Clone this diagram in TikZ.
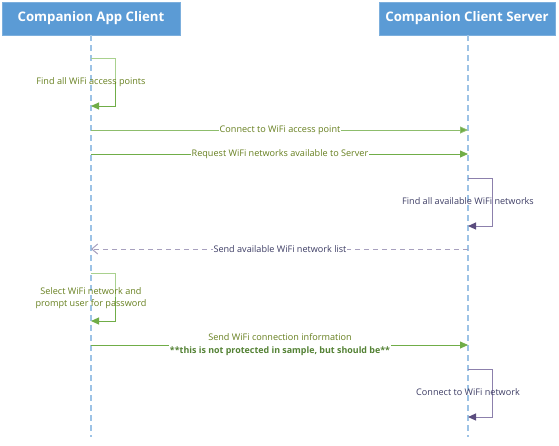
\documentclass[tikz,border=0pt]{standalone}
\usepackage{fontspec}
\setmainfont{Open Sans}
\usetikzlibrary{arrows.meta}
\definecolor{hdr}{HTML}{5B9BD5}
\definecolor{life}{HTML}{9DC3E6}
\definecolor{glight}{HTML}{A9D18E}
\definecolor{gdark}{HTML}{70AD47}
\definecolor{gtext}{HTML}{667F1E}
\definecolor{gbold}{HTML}{548235}
\definecolor{plight}{HTML}{8C80AC}
\definecolor{pdark}{HTML}{5B4C7E}
\definecolor{ptext}{HTML}{3C3C64}
\definecolor{pdash}{HTML}{A7A0BE}
\tikzset{
  x=1pt,y=-1pt,
  header/.style={fill=hdr,draw=hdr!80!white,line width=0.6pt,minimum width=178pt,minimum height=33pt,inner sep=0pt,text=white,font=\fontsize{13.2}{15}\selectfont\bfseries},
  lifeline/.style={draw=life,line width=1.3pt,dash pattern=on 6pt off 4pt},
  lbl/.style={font=\fontsize{9.1}{12}\selectfont,inner sep=1pt,align=center},
  glbl/.style={lbl,text=gtext},
  plbl/.style={lbl,text=ptext},
  gmsg/.style={draw=gdark,line width=0.8pt,-{Triangle[length=8pt,width=7pt,fill=gdark]}},
  gselfa/.style={draw=glight,line width=1pt},
  gselfb/.style={draw=gdark,line width=1pt,-{Triangle[length=8pt,width=7pt]}},
  pselfa/.style={draw=plight,line width=1pt},
  pselfb/.style={draw=plight,line width=1pt,-{Triangle[length=8pt,width=7pt,fill=pdark,color=pdark]}},
  ret/.style={draw=pdash,line width=1pt,dash pattern=on 5pt off 4pt,-{Straight Barb[length=6pt,width=10pt]}}
}
\begin{document}
\begin{tikzpicture}
\useasboundingbox (0,0) rectangle (559,445);
\node[header] (hA) at (91,18.5) {Companion App Client};
\node[header,minimum width=176pt] (hB) at (467,18.5) {Companion Client Server};
\coordinate (aEnd) at (91,437);
\coordinate (bEnd) at (468,437);
\draw[lifeline] (hA.south) -- (aEnd);
\draw[lifeline] (hB.south -| bEnd) -- (bEnd);
% self call 1
\coordinate (s1a) at (91,58); \coordinate (s1b) at (115,58);
\coordinate (s1c) at (115,106); \coordinate (s1d) at (91,106);
\draw[gselfa] (s1a) -- (s1b) -- (115,82);
\draw[gselfb] (115,82) -- (s1c) -- (s1d);
\node[glbl] (l1) at (91,82) {Find all WiFi access points};
% connect
\coordinate (m1a) at (91,130); \coordinate (m1b) at (468,130);
\draw[gmsg,draw=gdark!80!white] (m1a) -- (m1b);
\node[glbl,fill=white] (l2) at (280,130) {Connect to WiFi access point};
% request
\coordinate (m2a) at (91,154); \coordinate (m2b) at (468,154);
\draw[gmsg] (m2a) -- (m2b);
\node[glbl,fill=white] (l3) at (280,154) {Request WiFi networks available to Server};
% server self call
\coordinate (s2a) at (468,178); \coordinate (s2b) at (492,178);
\coordinate (s2c) at (492,226); \coordinate (s2d) at (468,226);
\draw[pselfa] (s2a) -- (s2b) -- (492,202);
\draw[pselfb] (492,202) -- (s2c) -- (s2d);
\node[plbl] (l4) at (468,201) {Find all available WiFi networks};
% return
\coordinate (r1a) at (468,249); \coordinate (r1b) at (91,249);
\draw[ret] (r1a) -- (r1b);
\node[plbl,fill=white] (l5) at (280,249) {Send available WiFi network list};
% self call 2
\coordinate (s3a) at (91,273); \coordinate (s3b) at (115,273);
\coordinate (s3c) at (115,321); \coordinate (s3d) at (91,321);
\draw[gselfa] (s3a) -- (s3b) -- (115,297);
\draw[gselfb] (115,297) -- (s3c) -- (s3d);
\node[glbl] (l6) at (91,298) {Select WiFi network and\\prompt user for password};
% send info
\coordinate (m3a) at (91,345); \coordinate (m3b) at (468,345);
\draw[gmsg] (m3a) -- (m3b);
\node[lbl,fill=white,font=\fontsize{9.1}{13}\selectfont] (l7) at (280,345) {\textcolor{gtext}{Send WiFi connection information}\\\textcolor{gbold}{\fontsize{8.9}{13}\selectfont\bfseries **this is not protected in sample, but should be**}};
% server self call 2
\coordinate (s4a) at (468,369); \coordinate (s4b) at (492,369);
\coordinate (s4c) at (492,417); \coordinate (s4d) at (468,417);
\draw[pselfa] (s4a) -- (s4b) -- (492,393);
\draw[pselfb] (492,393) -- (s4c) -- (s4d);
\node[plbl] (l8) at (468,392) {Connect to WiFi network};
\end{tikzpicture}
\end{document}
